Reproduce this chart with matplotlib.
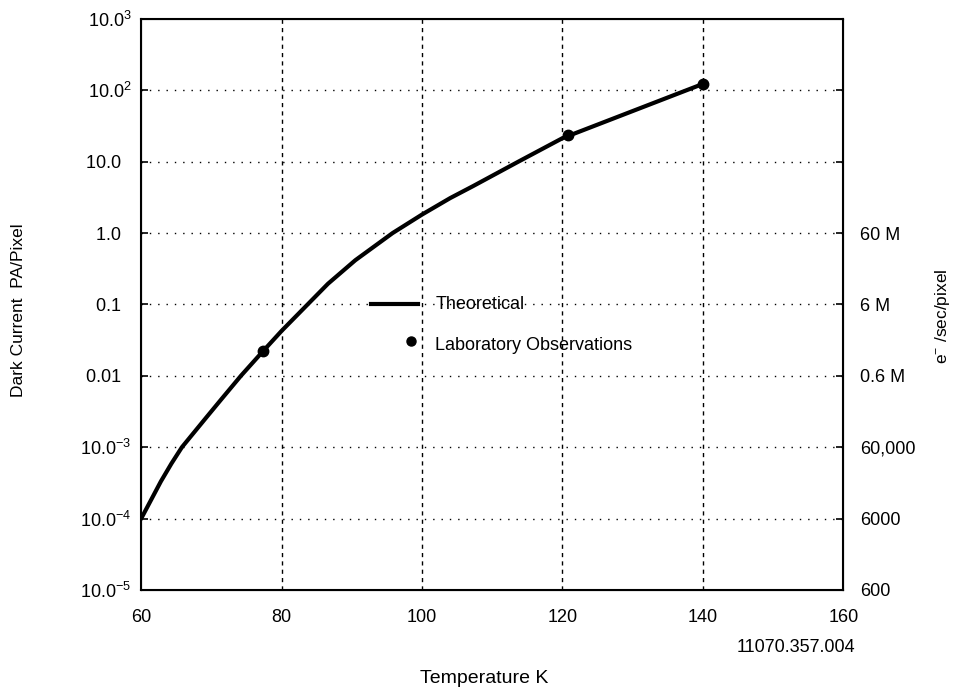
import matplotlib
matplotlib.use("Agg")
import matplotlib.pyplot as plt
import numpy as np

plt.rcParams['font.family'] = ['Liberation Sans', 'DejaVu Sans']
plt.rcParams['mathtext.fontset'] = 'custom'
plt.rcParams['mathtext.rm'] = 'Liberation Sans'
plt.rcParams['mathtext.it'] = 'Liberation Sans:italic'

# Theoretical curve: temperature K, log10 of dark current
theory_T = [60, 62.8, 64.3, 65.8, 69.3, 71.4, 74.2, 77.3, 80.0, 83.7, 86.6, 90.5, 95.8,
            100, 104, 107.3, 113.7, 120, 140]
theory_logI = [-4.0, -3.48, -3.23, -3.0, -2.58, -2.33, -2.0, -1.66, -1.37, -1.0, -0.71, -0.38, 0.0,
               0.26, 0.49, 0.66, 1.0, 1.33, 2.09]
theory_I = [10 ** v for v in theory_logI]

# Laboratory observations
obs_T = [77.3, 120.8, 140]
obs_I = [0.022, 23.4, 123.0]

left_ticks = [1e-5, 1e-4, 1e-3, 1e-2, 1e-1, 1.0, 10.0, 100.0, 1000.0]
left_labels = ['10.0$^{-5}$', '10.0$^{-4}$', '10.0$^{-3}$', '0.01  ', '0.1  ', '1.0  ', '10.0  ',
               '10.0$^{2}$', '10.0$^{3}$']
right_ticks = [1e-5, 1e-4, 1e-3, 1e-2, 1e-1, 1.0, 10.0, 100.0]
right_labels = ['600', '6000', '60,000', '0.6 M', '6 M', '60 M', '', '']
x_ticks = [60, 80, 100, 120, 140, 160]

fig = plt.figure(figsize=(9.54, 6.9), dpi=100)
ax = fig.add_axes([0.148, 0.145, 0.736, 0.8275])
ax.set_yscale('log')
ax.set_xlim(60, 160)
ax.set_ylim(1e-5, 1e3)

# grid
for y in left_ticks[1:-1]:
    ax.axhline(y, color='black', lw=1.0, ls=(0, (1, 5)), zorder=1)
for x in x_ticks[1:-1]:
    ax.axvline(x, color='black', lw=1.0, ls=(0, (3, 3)), zorder=1)

ax.plot(theory_T, theory_I, color='black', lw=3.0, solid_capstyle='round',
        solid_joinstyle='round', zorder=3)
ax.plot(obs_T, obs_I, 'o', color='black', ms=7.5, zorder=4)

ax.set_yticks(left_ticks)
ax.set_yticklabels(left_labels)
ax.minorticks_off()
ax.tick_params(axis='y', which='major', direction='in', length=5, width=1.2, pad=7, labelsize=13)
ax.set_xticks(x_ticks)
ax.tick_params(axis='x', which='major', direction='in', length=0, pad=14, labelsize=13)
for s in ax.spines.values():
    s.set_linewidth(1.5)

ax2 = ax.twinx()
ax2.set_yscale('log')
ax2.set_ylim(1e-5, 1e3)
ax2.set_yticks(right_ticks)
ax2.set_yticklabels(right_labels)
ax2.minorticks_off()
ax2.tick_params(axis='y', which='major', direction='in', length=5, width=1.2, pad=12, labelsize=13)

# legend (manual)
ax.plot([92.7, 99.4], [0.1, 0.1], color='black', lw=3.0, zorder=3)
ax.text(101.9, 0.1, 'Theoretical', fontsize=13, va='center', ha='left')
ax.plot([98.4], [0.031], 'o', color='black', ms=6.5, zorder=4)
ax.text(101.9, 0.027, 'Laboratory Observations', fontsize=13, va='center', ha='left')

fig.text(0.019, 0.55, 'Dark Current  PA/Pixel', rotation=90, ha='center', va='center', fontsize=12.5)
fig.text(0.988, 0.542, 'e$^{-}$ /sec/pixel', rotation=90, ha='center', va='center', fontsize=12.5)
fig.text(0.508, 0.017, 'Temperature K', ha='center', va='center', fontsize=14)
fig.text(0.896, 0.062, '11070.357.004', ha='right', va='center', fontsize=13)

fig.savefig('out.png', dpi=100)
